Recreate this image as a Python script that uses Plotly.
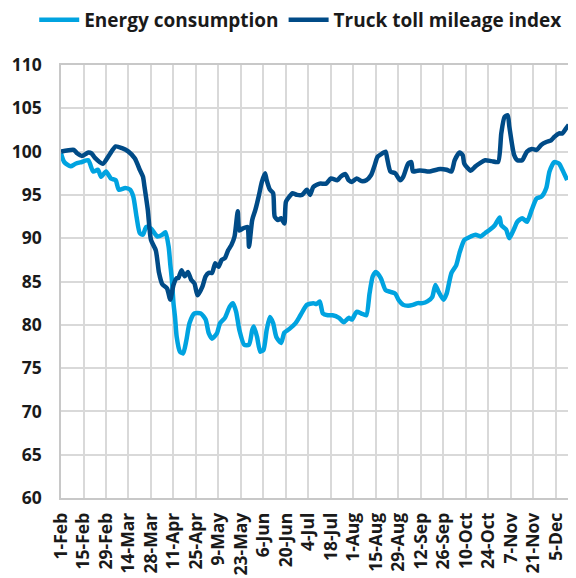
import plotly.graph_objects as go

energy_dates = [
    "2020-02-01", "2020-02-03", "2020-02-07", "2020-02-10", "2020-02-14", "2020-02-18", "2020-02-21",
    "2020-02-24", "2020-02-26", "2020-02-29", "2020-03-03", "2020-03-06", "2020-03-08", "2020-03-12",
    "2020-03-15", "2020-03-17", "2020-03-19", "2020-03-21", "2020-03-23", "2020-03-25", "2020-03-28",
    "2020-04-01", "2020-04-04", "2020-04-06", "2020-04-08", "2020-04-09", "2020-04-10", "2020-04-11",
    "2020-04-12", "2020-04-13", "2020-04-15", "2020-04-17", "2020-04-19", "2020-04-21", "2020-04-24",
    "2020-04-28", "2020-05-01", "2020-05-03", "2020-05-05", "2020-05-08", "2020-05-10", "2020-05-13",
    "2020-05-16", "2020-05-18", "2020-05-20", "2020-05-22", "2020-05-25", "2020-05-28", "2020-05-30",
    "2020-05-31", "2020-06-02", "2020-06-04", "2020-06-06", "2020-06-08", "2020-06-10", "2020-06-12",
    "2020-06-14", "2020-06-17", "2020-06-19", "2020-06-22", "2020-06-26", "2020-06-29", "2020-07-03",
    "2020-07-07", "2020-07-09", "2020-07-11", "2020-07-13", "2020-07-16", "2020-07-19", "2020-07-23",
    "2020-07-26", "2020-07-29", "2020-07-31", "2020-08-03", "2020-08-06", "2020-08-09", "2020-08-11",
    "2020-08-13", "2020-08-15", "2020-08-18", "2020-08-21", "2020-08-24", "2020-08-27", "2020-08-29",
    "2020-09-01", "2020-09-04", "2020-09-07", "2020-09-10", "2020-09-13", "2020-09-16", "2020-09-19",
    "2020-09-21", "2020-09-23", "2020-09-26", "2020-09-28", "2020-10-01", "2020-10-04", "2020-10-06",
    "2020-10-09", "2020-10-13", "2020-10-16", "2020-10-19", "2020-10-22", "2020-10-25", "2020-10-28",
    "2020-10-31", "2020-11-01", "2020-11-04", "2020-11-06", "2020-11-09", "2020-11-11", "2020-11-14",
    "2020-11-17", "2020-11-20", "2020-11-23", "2020-11-26", "2020-11-29", "2020-12-01", "2020-12-04",
    "2020-12-07", "2020-12-09", "2020-12-12",
]
energy_values = [
    99.8, 98.8, 98.3, 98.6, 98.8, 99.0, 97.7,
    97.9, 97.1, 97.7, 96.9, 96.7, 95.6, 95.8,
    95.6, 94.8, 92.5, 90.6, 90.4, 91.3, 91.1,
    90.2, 90.4, 90.7, 89.0, 87.0, 85.2, 82.5,
    80.8, 78.6, 76.9, 76.7, 78.2, 80.2, 81.3,
    81.3, 80.6, 79.0, 78.4, 79.0, 80.2, 80.8,
    82.1, 82.5, 81.5, 79.4, 77.7, 77.7, 79.4,
    79.8, 78.6, 76.9, 77.1, 79.4, 80.9, 80.2,
    78.6, 77.9, 79.1, 79.5, 80.2, 81.1, 82.3,
    82.5, 82.4, 82.7, 81.3, 81.1, 81.1, 80.8,
    80.3, 80.8, 80.6, 81.5, 81.3, 81.1, 83.6,
    85.6, 86.1, 85.4, 84.0, 83.8, 83.6, 82.9,
    82.3, 82.2, 82.3, 82.5, 82.5, 82.7, 83.2,
    84.6, 83.8, 82.9, 83.6, 86.0, 86.9, 88.3,
    89.8, 90.2, 90.4, 90.2, 90.6, 91.0, 91.5,
    92.4, 91.5, 91.0, 90.0, 91.1, 91.9, 92.3,
    91.9, 93.3, 94.6, 94.8, 95.8, 97.7, 98.8,
    98.6, 97.9, 96.7,
]

truck_dates = [
    "2020-02-01", "2020-02-09", "2020-02-11", "2020-02-14", "2020-02-18", "2020-02-20", "2020-02-22",
    "2020-02-27", "2020-03-02", "2020-03-06", "2020-03-10", "2020-03-14", "2020-03-18", "2020-03-21",
    "2020-03-23", "2020-03-24", "2020-03-26", "2020-03-28", "2020-03-31", "2020-04-02", "2020-04-04",
    "2020-04-07", "2020-04-09", "2020-04-11", "2020-04-13", "2020-04-14", "2020-04-16", "2020-04-18",
    "2020-04-20", "2020-04-22", "2020-04-24", "2020-04-26", "2020-04-29", "2020-05-01", "2020-05-03",
    "2020-05-05", "2020-05-07", "2020-05-09", "2020-05-11", "2020-05-13", "2020-05-15", "2020-05-17",
    "2020-05-19", "2020-05-21", "2020-05-22", "2020-05-24", "2020-05-27", "2020-05-28", "2020-05-30",
    "2020-06-01", "2020-06-03", "2020-06-05", "2020-06-07", "2020-06-08", "2020-06-10", "2020-06-12",
    "2020-06-13", "2020-06-15", "2020-06-17", "2020-06-19", "2020-06-20", "2020-06-23", "2020-06-24",
    "2020-06-27", "2020-06-30", "2020-07-03", "2020-07-05", "2020-07-07", "2020-07-11", "2020-07-15",
    "2020-07-18", "2020-07-22", "2020-07-24", "2020-07-27", "2020-07-29", "2020-07-31", "2020-08-03",
    "2020-08-06", "2020-08-09", "2020-08-12", "2020-08-14", "2020-08-16", "2020-08-19", "2020-08-21",
    "2020-08-22", "2020-08-24", "2020-08-27", "2020-08-30", "2020-09-01", "2020-09-04", "2020-09-06",
    "2020-09-07", "2020-09-10", "2020-09-13", "2020-09-17", "2020-09-24", "2020-09-28", "2020-10-01",
    "2020-10-03", "2020-10-06", "2020-10-08", "2020-10-09", "2020-10-13", "2020-10-16", "2020-10-19",
    "2020-10-22", "2020-10-26", "2020-10-30", "2020-11-01", "2020-11-03", "2020-11-05", "2020-11-06",
    "2020-11-09", "2020-11-11", "2020-11-14", "2020-11-17", "2020-11-20", "2020-11-23", "2020-11-26",
    "2020-11-29", "2020-12-02", "2020-12-04", "2020-12-07", "2020-12-09", "2020-12-11", "2020-12-13",
]
truck_values = [
    100.0, 100.2, 99.8, 99.5, 99.9, 99.8, 99.3,
    98.6, 99.6, 100.6, 100.4, 100.0, 99.2, 97.9,
    97.1, 95.9, 93.3, 89.8, 88.6, 86.0, 84.7,
    84.2, 82.9, 84.6, 85.4, 85.4, 86.3, 85.6,
    86.1, 85.2, 84.8, 83.4, 84.4, 85.6, 86.0,
    86.0, 87.1, 86.7, 87.5, 87.7, 88.6, 89.2,
    90.2, 93.1, 90.9, 91.1, 91.3, 89.0, 92.1,
    93.3, 94.8, 96.5, 97.5, 96.7, 95.6, 95.2,
    92.5, 92.1, 92.3, 91.7, 94.2, 95.0, 95.2,
    95.0, 95.0, 95.6, 95.0, 95.9, 96.3, 96.3,
    96.9, 96.7, 97.1, 97.4, 96.7, 96.5, 96.9,
    96.6, 96.7, 97.3, 98.3, 99.4, 99.8, 100.0,
    99.2, 97.7, 97.5, 96.7, 97.1, 98.6, 98.8,
    97.7, 97.8, 97.8, 97.7, 98.0, 97.9, 97.7,
    99.0, 99.9, 99.6, 98.6, 97.8, 98.3, 98.7,
    99.0, 98.9, 98.8, 102.1, 104.0, 104.2, 102.9,
    99.6, 99.0, 99.0, 100.0, 100.3, 100.2, 100.8,
    101.1, 101.3, 101.7, 102.1, 102.1, 102.6, 103.1,
]

series_names = ["Energy consumption", "Truck toll mileage index"]
series_colors = ["#00A3E0", "#004B87"]

fig = go.Figure()
fig.add_trace(go.Scatter(x=energy_dates, y=energy_values, mode="lines", name=series_names[0],
                         line=dict(color=series_colors[0], width=4.5, shape="spline", smoothing=0.6)))
fig.add_trace(go.Scatter(x=truck_dates, y=truck_values, mode="lines", name=series_names[1],
                         line=dict(color=series_colors[1], width=4.5, shape="spline", smoothing=0.6)))

tick_font = dict(family="Open Sans", size=17.5, color="#1a1a1a", weight="bold")

# the page body adds an 8px offset, so the figure is sized to fit the window
fig.update_layout(
    width=568, height=570,
    margin=dict(l=53, r=0, t=57, b=80, autoexpand=False),
    plot_bgcolor="white", paper_bgcolor="white",
    showlegend=True,
    legend=dict(orientation="h", x=-0.052, xanchor="left", y=1.104, yanchor="middle",
                font=dict(family="Open Sans", size=19, color="#1a1a1a", weight="bold"),
                itemwidth=40, tracegroupgap=0, bgcolor="rgba(0,0,0,0)"),
    xaxis=dict(
        type="date", automargin=False,
        range=["2020-02-01", "2020-12-17 12:00"],
        tick0="2020-02-01", dtick=14 * 86400000,
        tickformat="%-d-%b", tickangle=-90,
        tickfont=tick_font,
        showgrid=True, gridcolor="#d9d9d9", gridwidth=1.5,
        showline=True, linecolor="#c8c8c8", linewidth=1.5, mirror=True,
        ticks="", zeroline=False, ticklabelstandoff=6,
    ),
    yaxis=dict(
        range=[60, 110], dtick=5, tick0=60, automargin=False,
        tickfont=tick_font,
        showgrid=True, gridcolor="#d9d9d9", gridwidth=1.5,
        showline=True, linecolor="#c8c8c8", linewidth=1.5, mirror=True,
        ticks="", zeroline=False, ticklabelstandoff=14,
    ),
)

fig.write_html("out.html")
